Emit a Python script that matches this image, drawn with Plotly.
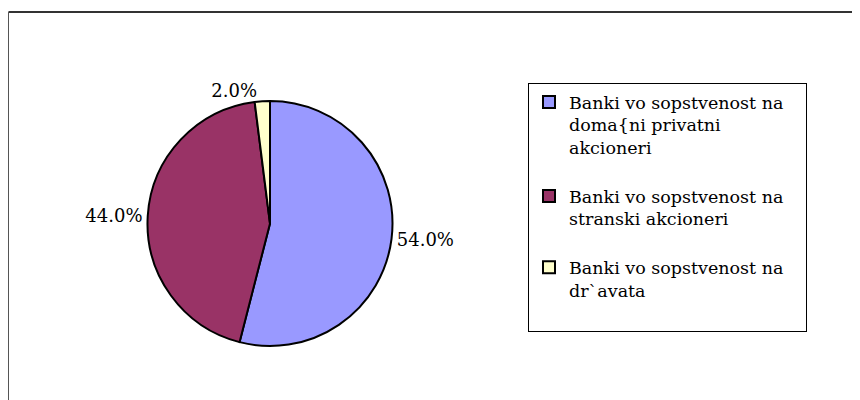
import plotly.graph_objects as go

labels = [
    "Banki vo sopstvenost na&nbsp;&nbsp;&nbsp;<br>doma{ni privatni<br>akcioneri<br> ",
    "Banki vo sopstvenost na<br>stranski akcioneri<br> ",
    "Banki vo sopstvenost na<br>dr`avata<br> ",
]
values = [54.0, 44.0, 2.0]
colors = ["#9999FF", "#993366", "#FFFFCC"]

W, H = 860, 400
OFF = 8  # page body margin offset
cx, cy, r = 270 - OFF, 223.5 - OFF, 122.5

fig = go.Figure(go.Pie(
    labels=labels,
    values=values,
    sort=False,
    direction="clockwise",
    rotation=0,
    marker=dict(colors=colors, line=dict(color="#000000", width=2)),
    textposition="outside",
    texttemplate="%{percent:.1%}",
    textfont=dict(family="DejaVu Serif", size=18, color="#000000"),
    domain=dict(x=[(cx - r) / W, (cx + r) / W], y=[(H - cy - r) / H, (H - cy + r) / H]),
    hoverinfo="percent",
    automargin=False,
))

fig.update_layout(
    width=W, height=H,
    margin=dict(l=0, r=0, t=0, b=0),
    paper_bgcolor="#FFFFFF",
    plot_bgcolor="#FFFFFF",
    showlegend=True,
    legend=dict(
        x=(528 - OFF) / W, y=1 - (83 - OFF) / H, xanchor="left", yanchor="top",
        bgcolor="#FFFFFF", bordercolor="#000000", borderwidth=1,
        font=dict(family="DejaVu Serif", size=17.5, color="#000000"),
        valign="top",
        itemwidth=30,
        traceorder="normal",
    ),
    shapes=[
        dict(type="line", xref="paper", yref="paper", x0=0.5 / W, x1=1.02, y0=1 - (12 - OFF) / H, y1=1 - (12 - OFF) / H,
             line=dict(color="#333333", width=2)),
        dict(type="line", xref="paper", yref="paper", x0=0.5 / W, x1=0.5 / W, y0=1 - (12 - OFF) / H, y1=-0.02,
             line=dict(color="#555555", width=1)),
    ],
)

fig.write_html("out.html")
